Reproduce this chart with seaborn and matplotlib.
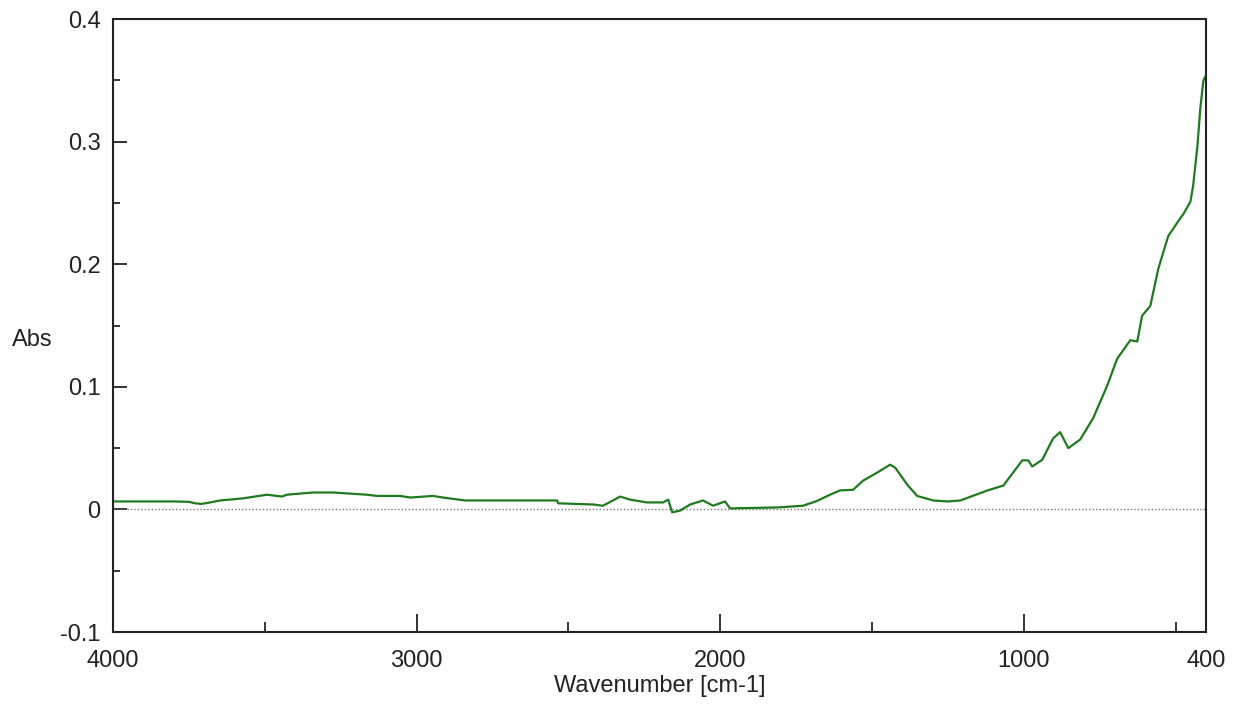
import pandas as pd
import numpy as np
import matplotlib
matplotlib.use("Agg")
import matplotlib.pyplot as plt
import seaborn as sns
from matplotlib.ticker import FixedLocator

sns.set_style("ticks")
plt.rcParams['font.family'] = ['Liberation Sans', 'DejaVu Sans']

# spektrum
wavenumber = [4000, 3900, 3800, 3750, 3730, 3710, 3690, 3647, 3572, 3493, 3443, 3427,
              3341, 3275, 3163, 3130, 3054, 3021, 2946, 2913, 2840, 2700, 2537, 2534,
              2418, 2386, 2353, 2329, 2297, 2241, 2188, 2171, 2158, 2132, 2099, 2056,
              2023, 1984, 1967, 1934, 1812, 1727, 1680, 1638, 1605, 1562, 1529, 1483,
              1440, 1423, 1384, 1351, 1298, 1250, 1209, 1120, 1067, 1035, 1005, 985,
              972, 939, 903, 880, 853, 814, 771, 725, 692, 649, 626, 610,
              583, 557, 540, 524, 494, 474, 451, 442, 428, 418, 408, 402]
absorbance = [0.0065, 0.0065, 0.0065, 0.0062, 0.005, 0.0045, 0.0052, 0.0073, 0.009, 0.012, 0.0105, 0.012,
              0.0138, 0.0138, 0.012, 0.011, 0.011, 0.0097, 0.011, 0.0097, 0.0073, 0.0073, 0.0073, 0.005,
              0.004, 0.003, 0.0073, 0.0105, 0.008, 0.0057, 0.0057, 0.008, -0.0024, -0.001, 0.004, 0.0073,
              0.003, 0.0065, 0.0008, 0.001, 0.0016, 0.003, 0.007, 0.012, 0.0155, 0.016, 0.0235, 0.030,
              0.0365, 0.034, 0.0203, 0.011, 0.0073, 0.0065, 0.0073, 0.0154, 0.0195, 0.030, 0.040, 0.040,
              0.035, 0.0405, 0.058, 0.063, 0.050, 0.057, 0.0746, 0.101, 0.123, 0.138, 0.137, 0.158,
              0.166, 0.196, 0.210, 0.223, 0.234, 0.241, 0.251, 0.264, 0.296, 0.328, 0.350, 0.353]

x_major = [4000, 3000, 2000, 1000, 400]
x_labels = ["4000", "3000", "2000", "1000", "400"]
x_minor = [3500, 2500, 1500, 500]
y_major = [-0.1, 0, 0.1, 0.2, 0.3, 0.4]
y_labels = ["-0.1", "0", "0.1", "0.2", "0.3", "0.4"]
y_minor = [-0.05, 0.05, 0.15, 0.25, 0.35]

df = pd.DataFrame({"wavenumber": wavenumber, "abs": absorbance})

fig = plt.figure(figsize=(12.33, 7.06), dpi=100)
ax = fig.add_axes([0.0916, 0.1048, 0.8864, 0.8682])

ax.axhline(0, color="#777777", lw=1, ls=(0, (1, 1.5)), zorder=1)
sns.lineplot(data=df, x="wavenumber", y="abs", ax=ax, color="#1f7a1f", lw=1.6, zorder=2)

ax.set_xlim(4000, 400)
ax.set_ylim(-0.1, 0.4)

ax.xaxis.set_major_locator(FixedLocator(x_major))
ax.set_xticklabels(x_labels)
ax.xaxis.set_minor_locator(FixedLocator(x_minor))
ax.yaxis.set_major_locator(FixedLocator(y_major))
ax.set_yticklabels(y_labels)
ax.yaxis.set_minor_locator(FixedLocator(y_minor))

ax.tick_params(axis="x", which="major", direction="in", length=13, width=1.3, pad=13, labelsize=17, colors="#222222")
ax.tick_params(axis="x", which="minor", direction="in", length=7, width=1.3)
ax.tick_params(axis="y", which="major", direction="in", length=10, width=1.3, pad=9, labelsize=17, colors="#222222")
ax.tick_params(axis="y", which="minor", direction="in", length=5, width=1.3)

for s in ax.spines.values():
    s.set_color("#222222")
    s.set_linewidth(1.5)

ax.set_xlabel("Wavenumber [cm-1]", fontsize=17, color="#222222", labelpad=2)
ax.set_ylabel("Abs", fontsize=17, color="#222222", rotation=0, va="center", ha="center")
ax.yaxis.set_label_coords(-0.074, 0.476)

fig.savefig("out.png", dpi=100)
